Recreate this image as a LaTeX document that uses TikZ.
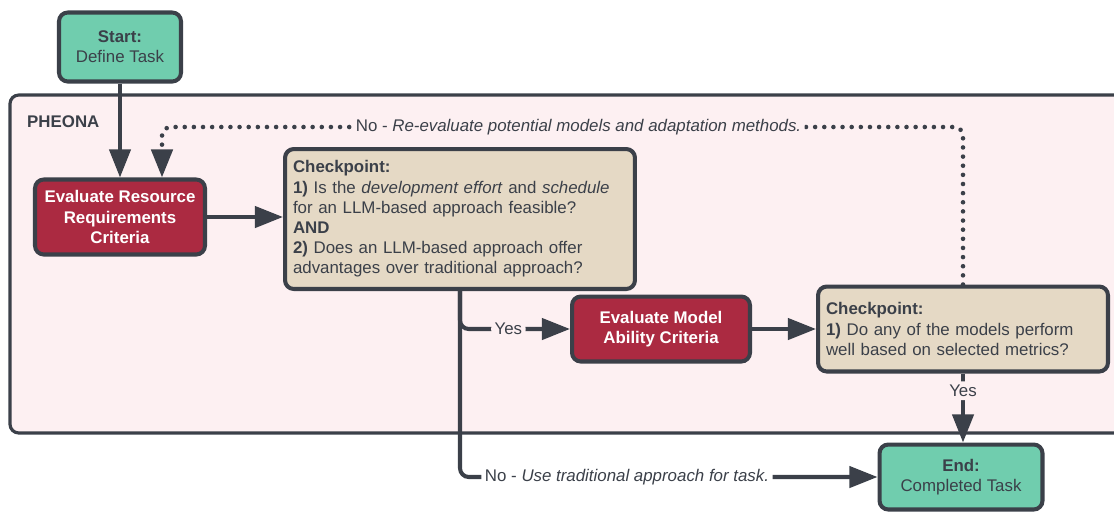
\documentclass[tikz,border=0pt]{standalone}
\usepackage{fontspec}
\setmainfont{Liberation Sans}
\usetikzlibrary{arrows.meta}
\definecolor{inkgray}{HTML}{3B4049}
\definecolor{mint}{HTML}{70CDAE}
\definecolor{crimson}{HTML}{AB2A41}
\definecolor{sand}{HTML}{E5D9C5}
\definecolor{blush}{HTML}{FDF0F2}

\begin{document}
\begin{tikzpicture}[x=0.02cm,y=-0.02cm]
\tikzstyle{every node}+=[font=\fontsize{9.6}{11.5}\selectfont,text=inkgray]
\tikzstyle{stage}=[draw=inkgray,line width=2.3pt,rounded corners=5pt,align=center,inner sep=0pt]
\tikzstyle{terminal}=[stage,fill=mint]
\tikzstyle{evalbox}=[stage,fill=crimson,text=white,font=\fontsize{9.6}{11.5}\selectfont\bfseries]
\tikzstyle{checkbox}=[stage,fill=sand,align=left,inner xsep=0.16cm]
\tikzstyle{flow}=[draw=inkgray,line width=2.3pt,-{Triangle[length=16pt,width=12pt]},rounded corners=5pt]
\tikzstyle{retflow}=[flow,line width=2.6pt,line cap=round,dash pattern=on 0pt off 5.2pt]
\tikzstyle{lbl}=[inner sep=2pt]
\useasboundingbox (0,0) rectangle (1114,512);
% PHEONA frame
\draw[draw=inkgray,fill=blush,line width=1.8pt,rounded corners=5pt] (10,95) rectangle (1140,433);
\node[anchor=west,font=\fontsize{9.6}{11.5}\selectfont\bfseries] (pheona) at (21,122) {PHEONA};
% boxes
\node[terminal,minimum width=2.44cm,minimum height=1.38cm] (start) at (120,47) {\textbf{Start:}\\Define Task};
\node[evalbox,minimum width=3.4cm,minimum height=1.5cm] (resource) at (120,217) {Evaluate Resource\\Requirements\\Criteria};
\node[checkbox,text width=6.68cm,minimum height=2.8cm] (check1) at (460,219) {\textbf{Checkpoint:}\\
\textbf{1)} Is the \textit{development effort} and \textit{schedule}\\
for an LLM-based approach feasible?\\
\textbf{AND}\\
\textbf{2)} Does an LLM-based approach offer\\
advantages over traditional approach?};
\node[evalbox,minimum width=3.56cm,minimum height=1.3cm] (model) at (661,329) {Evaluate Model\\Ability Criteria};
\node[checkbox,text width=5.48cm,minimum height=1.7cm] (check2) at (963,329) {\textbf{Checkpoint:}\\
\textbf{1)} Do any of the models perform\\
well based on selected metrics?};
\node[terminal,minimum width=3.26cm,minimum height=1.3cm] (finish) at (961,477) {\textbf{End:}\\Completed Task};
% connectors
\draw[flow] (start) -- (resource);
\draw[flow] (resource.east) -- (resource.east -| check1.west);
\draw[flow] (check1.south) |- node[lbl,fill=blush,pos=0.72] {Yes} (model.west);
\draw[flow] (check1.south) |- node[lbl,fill=white,pos=0.70] {No - \textit{Use traditional approach for task.}} (finish.west);
\draw[flow] (model) -- (check2);
\draw[flow] (check2.south) -- node[lbl,fill=blush,pos=0.25] {Yes} (check2.south |- finish.north);
\coordinate (loop) at (162,127);
\draw[retflow] (check2.north) |- node[lbl,fill=blush,pos=0.74] {No - \textit{Re-evaluate potential models and adaptation methods.}} (loop) -- (loop |- resource.north);
\end{tikzpicture}
\end{document}
